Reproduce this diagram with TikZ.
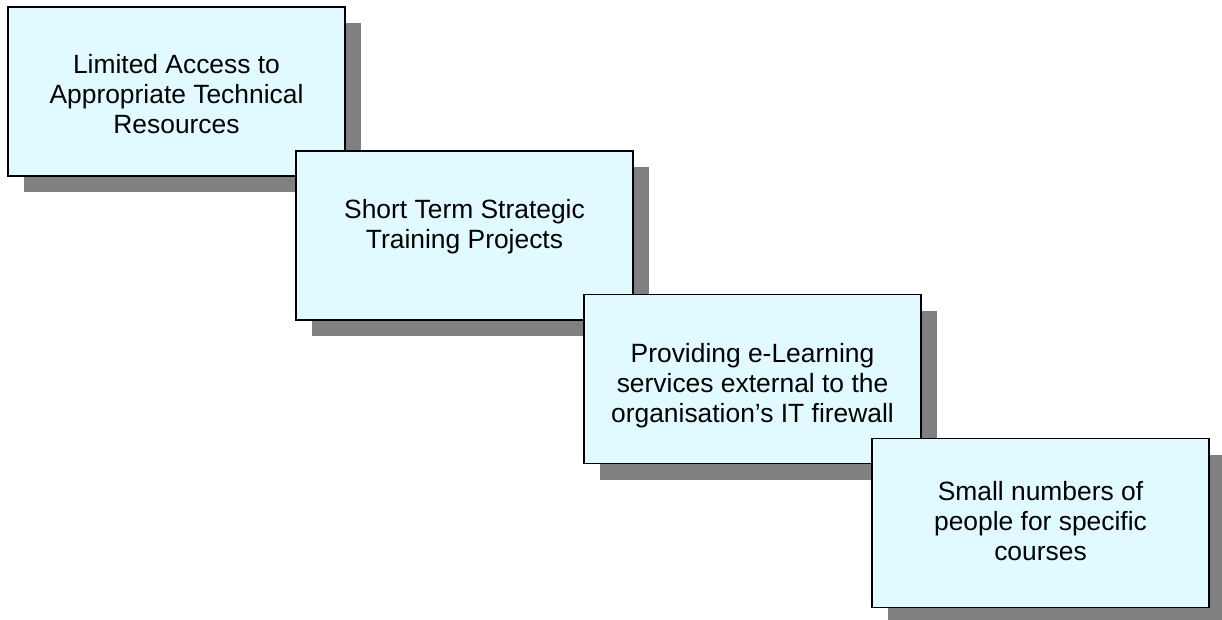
\documentclass[tikz,border=0pt]{standalone}
\usepackage{fontspec}
\setmainfont{Liberation Sans}
\usetikzlibrary{shadows}
\definecolor{boxfill}{RGB}{224,250,255}
\definecolor{shadowgray}{RGB}{128,128,128}
\begin{document}
\begin{tikzpicture}[x=1pt,y=-1pt,
  box/.style={draw=black, line width=1.5pt, fill=boxfill, rectangle, inner sep=0pt,
    minimum width=337pt, minimum height=169pt,
    general shadow={fill=shadowgray, draw=none, shadow xshift=16pt, shadow yshift=-16pt}},
  txt/.style={align=center, inner sep=0pt, font=\fontsize{26.4}{30}\selectfont}]
\useasboundingbox (0,0) rectangle (1222,620);
\node[box] (b1) at (176.5,91.5) {};
\node[txt] (t1) at (176.5,94) {Limited Access to\\Appropriate Technical\\Resources};
\node[box] (b2) at (464.5,235.5) {};
\node[txt] (t2) at (464.5,227) {Short Term Strategic\\Training Projects};
\node[box] (b3) at (752.5,379) {};
\node[txt] (t3) at (752.5,386) {Providing e-Learning\\services external to the\\organisation’s IT firewall};
\node[box] (b4) at (1040.5,523) {};
\node[txt] (t4) at (1040.5,521) {Small numbers of\\people for specific\\courses};
\end{tikzpicture}
\end{document}
